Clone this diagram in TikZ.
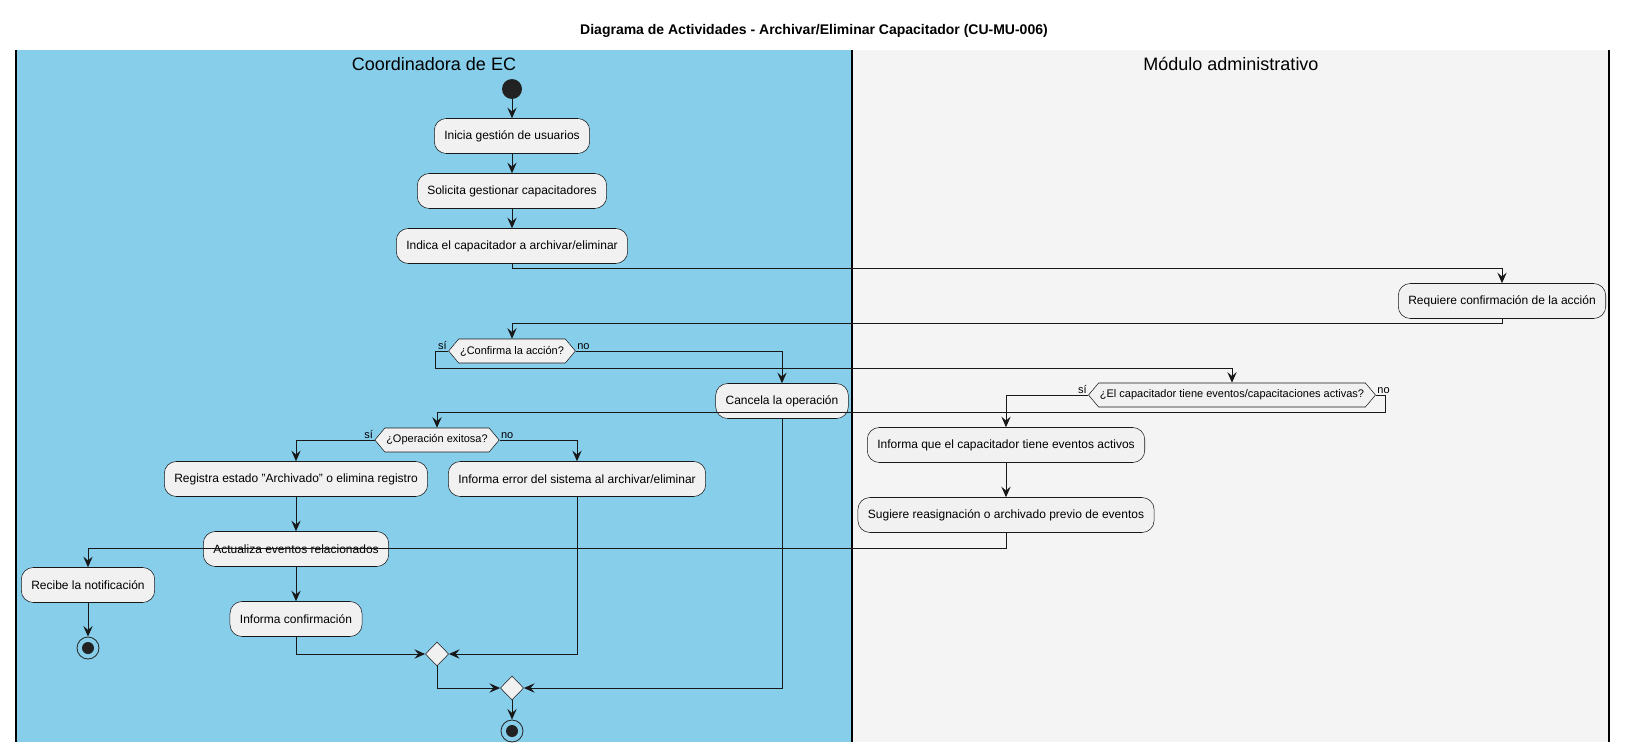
\documentclass[tikz,border=0pt]{standalone}
\usepackage{fontspec}
\setmainfont{Liberation Sans}
\usetikzlibrary{arrows.meta,shapes.geometric,shapes.symbols,calc}
\definecolor{laneblue}{HTML}{87CEEB}
\definecolor{lanegrey}{HTML}{F4F4F4}
\definecolor{boxfill}{HTML}{F1F1F1}
\definecolor{ink}{HTML}{181818}
\definecolor{dot}{HTML}{222222}

\begin{document}
\begin{tikzpicture}[x=0.75pt,y=-0.75pt,
	act/.style={rectangle,rounded corners=9pt,draw=ink,line width=0.4pt,fill=boxfill,minimum height=26.25pt,inner xsep=7.5pt,font=\fontsize{9}{10}\selectfont},
	ask/.style={signal,signal to=west and east,signal pointer angle=100,draw=ink,line width=0.4pt,fill=boxfill,minimum height=18pt,inner xsep=1pt,inner ysep=0pt,font=\fontsize{8.25}{9}\selectfont},
	mergebox/.style={diamond,draw=ink,line width=0.4pt,fill=boxfill,minimum width=17.5pt,minimum height=18pt,inner sep=0pt},
	startdot/.style={circle,fill=dot,minimum size=15pt,inner sep=0pt},
	enddot/.style={circle,draw=dot,line width=0.6pt,minimum size=16.5pt,inner sep=0pt,path picture={\fill[dot] (path picture bounding box.center) circle (4.5pt);}},
	flow/.style={draw=ink,line width=0.75pt,-{Stealth[length=8pt,width=7pt,inset=3pt]}},
	lbl/.style={font=\fontsize{8.25}{9}\selectfont,inner sep=1pt},
	lanetitle/.style={font=\fontsize{13.5}{15}\selectfont}]
	\useasboundingbox (0,0) rectangle (1628,753);
	\fill[white] (0,0) rectangle (1628,753);
	\fill[laneblue] (16,50) rectangle (852,742);
	\fill[lanegrey] (852,50) rectangle (1609,742);
	\draw[line width=1.1pt] (16,50) -- (16,742) (852,50) -- (852,742) (1609,50) -- (1609,742);
	
	\node[font=\bfseries\fontsize{10.5}{12}\selectfont] (titulo) at (814,31) {Diagrama de Actividades - Archivar/Eliminar Capacitador (CU-MU-006)};
	\node[lanetitle] (carril1) at (434,64) {Coordinadora de EC};
	\node[lanetitle] (carril2) at (1231,64) {Módulo administrativo};
	
	\node[startdot] (inicio) at (512,89) {};
	\node[act] (inicia) at (512,136) {Inicia gestión de usuarios};
	\node[act] (solicita) at (512,191) {Solicita gestionar capacitadores};
	\node[act] (indica) at (512,246) {Indica el capacitador a archivar/eliminar};
	\node[act] (requiere) at (1502,301) {Requiere confirmación de la acción};
	\node[ask] (confirma) at (512,351) {¿Confirma la acción?};
	\node[act] (cancela) at (782,401) {Cancela la operación};
	\node[ask] (tiene) at (1232,395) {¿El capacitador tiene eventos/capacitaciones activas?};
	\node[ask] (operacion) at (437,440) {¿Operación exitosa?};
	\node[act] (registra) at (296,479) {Registra estado "Archivado" o elimina registro};
	\node[act] (error) at (577,479) {Informa error del sistema al archivar/eliminar};
	\node[act] (actualiza) at (296,549) {Actualiza eventos relacionados};
	\node[act] (confirmacion) at (296,619) {Informa confirmación};
	\node[mergebox] (merge1) at (437,654) {};
	\node[mergebox] (merge2) at (512,688) {};
	\node[enddot] (fin) at (512,731) {};
	\node[act] (informaque) at (1006,445) {Informa que el capacitador tiene eventos activos};
	\node[act] (sugiere) at (1006,515) {Sugiere reasignación o archivado previo de eventos};
	\node[act] (recibe) at (88,585) {Recibe la notificación};
	\node[enddot] (fin2) at (88,648) {};
	
	\node[lbl,anchor=south east] (si1) at (confirma.west) {sí};
	\node[lbl,anchor=south west] (no1) at (confirma.east) {no};
	\node[lbl,anchor=south east] (si2) at (tiene.west) {sí};
	\node[lbl,anchor=south west] (no2) at (tiene.east) {no};
	\node[lbl,anchor=south east] (si3) at (operacion.west) {sí};
	\node[lbl,anchor=south west] (no3) at (operacion.east) {no};
	
	\draw[flow] (inicio) -- (inicia);
	\draw[flow] (inicia) -- (solicita);
	\draw[flow] (solicita) -- (indica);
	\draw[flow] (indica.south) -- ++(0,5) -| (requiere.north);
	\draw[flow] (requiere.south) -- ++(0,5) -| (confirma.north);
	\draw[flow] (confirma.west) -- ++(-13,0) |- ($(tiene.north)+(0,-14)$) -- (tiene.north);
	\draw[flow] (confirma.east) -| (cancela.north);
	\draw[flow] (tiene.west) -| (informaque.north);
	\draw[flow] (tiene.east) -- ++(10,0) |- ($(operacion.north)+(0,-15)$) -- (operacion.north);
	\draw[flow] (operacion.west) -| (registra.north);
	\draw[flow] (operacion.east) -| (error.north);
	\draw[flow] (registra) -- (actualiza);
	\draw[flow] (actualiza) -- (confirmacion);
	\draw[flow] (informaque) -- (sugiere);
	\draw[flow] (sugiere.south) -- ++(0,16) -| (recibe.north);
	\draw[flow] (recibe) -- (fin2);
	\draw[flow] (confirmacion.south) |- (merge1.west);
	\draw[flow] (error.south) |- (merge1.east);
	\draw[flow] (merge1.south) |- (merge2.west);
	\draw[flow] (cancela.south) |- (merge2.east);
	\draw[flow] (merge2) -- (fin);
\end{tikzpicture}
\end{document}
